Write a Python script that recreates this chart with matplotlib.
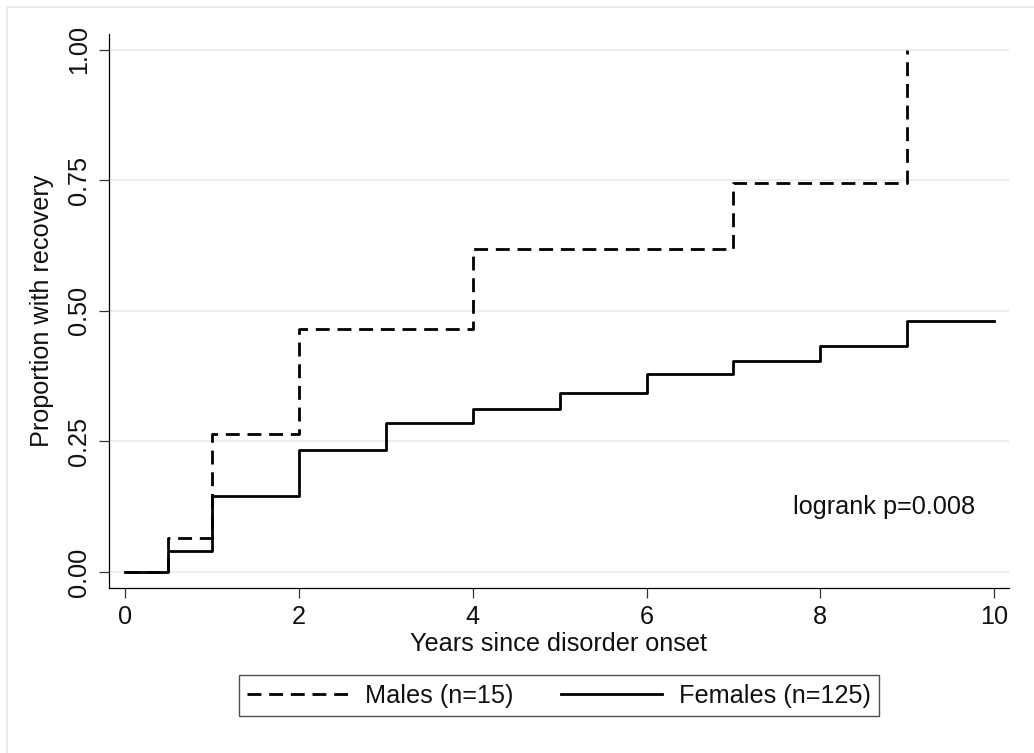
import matplotlib
matplotlib.use("Agg")
import matplotlib.pyplot as plt
from matplotlib.patches import Rectangle

plt.rcParams['font.family'] = ['Liberation Sans', 'DejaVu Sans']

# Kaplan-Meier style step data
male_years = [0, 0.5, 1, 2, 4, 7, 9]
male_prop = [0, 0.066, 0.265, 0.465, 0.618, 0.744, 1.0]

female_years = [0, 0.5, 1, 2, 3, 4, 5, 6, 7, 8, 9, 10]
female_prop = [0, 0.040, 0.145, 0.233, 0.286, 0.312, 0.342, 0.379, 0.404, 0.432, 0.481, 0.481]

x_ticks = [0, 2, 4, 6, 8, 10]
y_ticks = [0, 0.25, 0.5, 0.75, 1.0]
y_ticklabels = ["0.00", "0.25", "0.50", "0.75", "1.00"]

labels = ["Males (n=15)", "Females (n=125)"]
pvalue_text = "logrank p=0.008"

FS = 18.2
TXT = '#111111'
LW = 2.0

fig = plt.figure(figsize=(10.34, 7.53), dpi=100)
fig.patch.set_facecolor('white')

# light grey outer frame (Stata graph region)
fig.patches.append(Rectangle((7 / 1034, -0.05), 1.2, 1 - 7 / 753 + 0.05,
                             transform=fig.transFigure, fill=False,
                             edgecolor='#e6e6e6', linewidth=1.2))

ax = fig.add_axes([109 / 1034, 1 - 588.3 / 753, 900 / 1034, (588.3 - 34) / 753])

# gridlines
for yv in y_ticks:
    ax.axhline(yv, color='#eaeaea', linewidth=1.2, zorder=0)

ax.plot(male_years, male_prop, drawstyle='steps-post', color='black',
        linewidth=LW, linestyle=(0, (5.0, 2.8)), label=labels[0], zorder=3)
ax.plot(female_years, female_prop, drawstyle='steps-post', color='black',
        linewidth=LW, linestyle='-', label=labels[1], zorder=4)

ax.set_xlim(-0.184, 10.17)
ax.set_ylim(-0.031, 1.030)

ax.spines['top'].set_visible(False)
ax.spines['right'].set_visible(False)
for s in ['left', 'bottom']:
    ax.spines[s].set_linewidth(0.9)
    ax.spines[s].set_color('black')

ax.set_xticks(x_ticks)
ax.set_xticklabels([str(t) for t in x_ticks])
ax.set_yticks(y_ticks)
ax.set_yticklabels(y_ticklabels, rotation=90, va='center')

ax.tick_params(axis='both', length=7.2, width=0.9, color='#333333',
               labelsize=FS, labelcolor=TXT)
ax.tick_params(axis='x', pad=5)
ax.tick_params(axis='y', pad=6)

ax.set_xlabel("Years since disorder onset", fontsize=FS, color=TXT, labelpad=2)
ax.set_ylabel("Proportion with recovery", fontsize=FS, color=TXT, labelpad=9)

ax.text(8.73, 0.111, pvalue_text, fontsize=FS, color=TXT, ha='center', va='baseline')

handles, labs = ax.get_legend_handles_labels()
leg = fig.legend(handles, labs, loc='center', ncol=2,
                 bbox_to_anchor=(559 / 1034, 1 - 695.5 / 753),
                 fontsize=FS, frameon=True, fancybox=False,
                 handlelength=4.0, handletextpad=0.64, columnspacing=1.9,
                 borderpad=0.35, borderaxespad=0, labelcolor=TXT)
leg.get_frame().set_edgecolor('#222222')
leg.get_frame().set_linewidth(1.0)

fig.savefig('out.png', dpi=100, facecolor='white')
